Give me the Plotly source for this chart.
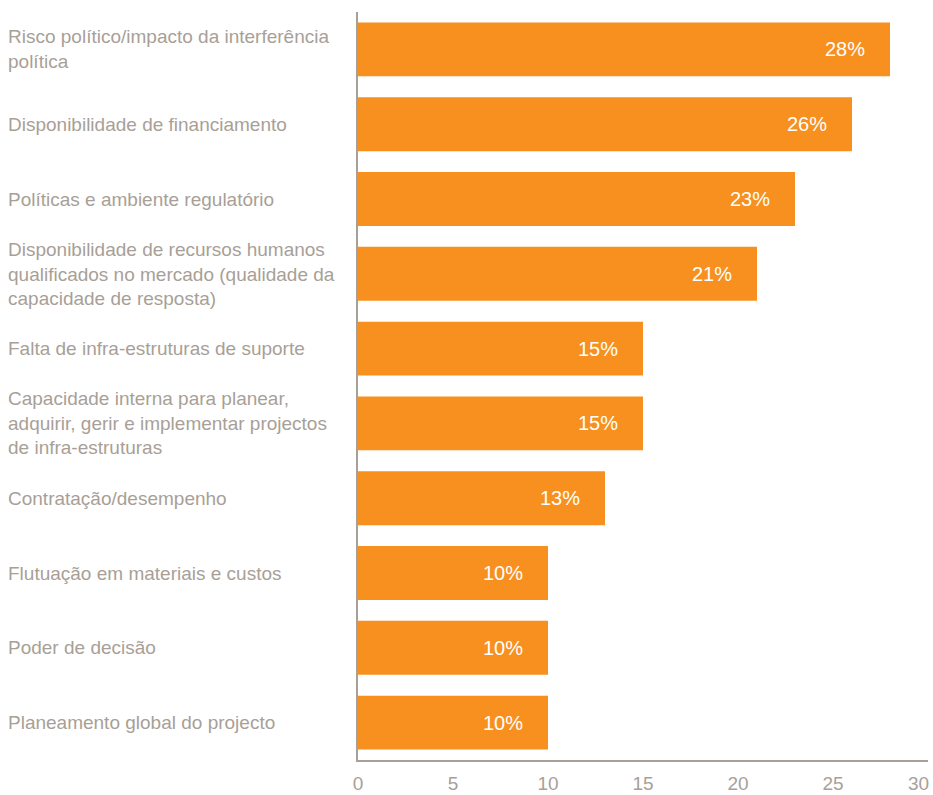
import plotly.graph_objects as go

categories = [
    "Risco político/impacto da interferência<br>política",
    "Disponibilidade de financiamento",
    "Políticas e ambiente regulatório",
    "Disponibilidade de recursos humanos<br>qualificados no mercado (qualidade da<br>capacidade de resposta)",
    "Falta de infra-estruturas de suporte",
    "Capacidade interna para planear,<br>adquirir, gerir e implementar projectos<br>de infra-estruturas",
    "Contratação/desempenho",
    "Flutuação em materiais e custos",
    "Poder de decisão",
    "Planeamento global do projecto",
]
values = [28, 26, 23, 21, 15, 15, 13, 10, 10, 10]
x_ticks = [0, 5, 10, 15, 20, 25, 30]

BAR = "#F7901E"
GREY = "#A89F97"
FONT = "Liberation Sans, Arial, sans-serif"

W, H = 933, 795
ML, MR, MT, MB = 358, 5, 12, 35
plot_w = W - ML - MR

fig = go.Figure(
    go.Bar(
        x=values,
        y=list(range(len(categories))),
        orientation="h",
        marker=dict(color=BAR, line=dict(width=0)),
        width=0.72,
        hoverinfo="skip",
    )
)

# category labels, left aligned at the page edge
for i, label in enumerate(categories):
    fig.add_annotation(
        x=-(ML - 6) / plot_w, xref="paper", y=i, yref="y",
        text=label, showarrow=False, xanchor="left", yanchor="middle",
        align="left", font=dict(family=FONT, size=19, color=GREY),
    )

# value labels inside the bar ends
for i, v in enumerate(values):
    fig.add_annotation(
        x=v, y=i, xref="x", yref="y", text=f"{v}%", showarrow=False,
        xanchor="center", yanchor="middle", xshift=-45,
        font=dict(family=FONT, size=20, color="white"),
    )

# the last tick sits on the plot edge, so its label is kept inside the page
inner_ticks = x_ticks[:-1]
fig.add_annotation(
    x=x_ticks[-1], xref="x", y=0, yref="paper", yshift=-23,
    text=str(x_ticks[-1]), showarrow=False, xanchor="right", yanchor="middle",
    xshift=3, font=dict(family=FONT, size=19, color=GREY),
)

fig.update_layout(
    width=W, height=H,
    margin=dict(l=ML, r=MR, t=MT, b=MB, autoexpand=False),
    paper_bgcolor="white", plot_bgcolor="white",
    showlegend=False,
)
fig.update_xaxes(
    range=[0, 30], tickvals=inner_ticks, ticktext=[str(t) for t in inner_ticks],
    showgrid=False, zeroline=False, automargin=False,
    showline=True, linecolor=GREY, linewidth=2,
    ticks="outside", ticklen=5, tickcolor="rgba(0,0,0,0)",
    tickfont=dict(family=FONT, size=19, color=GREY),
    fixedrange=True,
)
fig.update_yaxes(
    range=[len(categories) - 0.5, -0.5],
    showticklabels=False, showgrid=False, zeroline=False, automargin=False,
    showline=True, linecolor=GREY, linewidth=2,
    fixedrange=True,
)

fig.write_html("out.html", config={"displayModeBar": False})
